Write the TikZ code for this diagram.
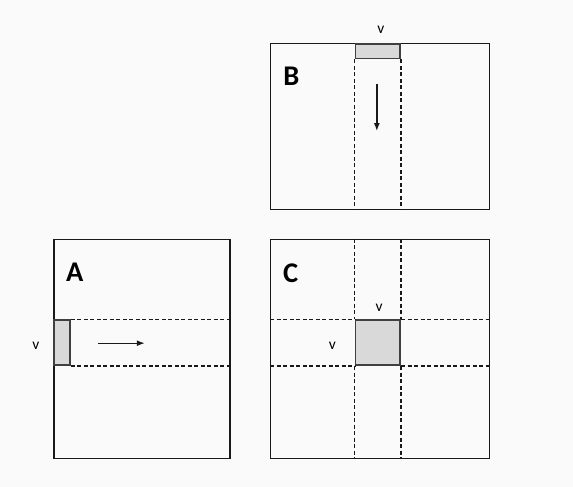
\documentclass[tikz,border=0pt]{standalone}
\usepackage{fontspec}
\setmainfont{Carlito}
\usetikzlibrary{arrows, arrows.meta, positioning}
\tikzstyle{mat} = [draw=black!90, line width=1.3pt, rectangle, inner sep=0pt]
\tikzstyle{part} = [draw=black!75, fill=black!15, line width=1.7pt, rectangle, inner sep=0pt]
\tikzstyle{strip} = [draw=black!90, line width=1.3pt, dash pattern=on 4pt off 2.5pt]
\tikzstyle{tag} = [font=\fontsize{28.5}{32}\selectfont\bfseries, inner sep=0pt]
\tikzstyle{dim} = [font=\fontsize{15.5}{18}\selectfont, inner sep=0pt]
\tikzstyle{point} = [coordinate]

\begin{document}
\begin{tikzpicture}[x=1pt, y=-1pt, >={Latex[length=8pt, width=6pt]}]
	\fill[black!2] (0,0) rectangle (573,487);
	\useasboundingbox (0,0) rectangle (573,487);

	% the three matrices
	\node [mat, minimum width=176pt, minimum height=219pt] (A) at (142,348.8) {};
	\node [mat, minimum width=218.6pt, minimum height=165.6pt] (B) at (380,126.5) {};
	\node [mat, minimum width=218.6pt, minimum height=219pt] (C) at (380,348.8) {};

	\node [tag] at ([xshift=21.5pt, yshift=-33.3pt]A.north west) {A};
	\node [tag] at ([xshift=21.3pt, yshift=-33.3pt]B.north west) {B};
	\node [tag] at ([xshift=20.5pt, yshift=-34.4pt]C.north west) {C};

	% blocks of size v
	\node [part, minimum width=15.7pt, minimum height=45pt, anchor=north west] (vA) at ([yshift=-80.7pt]A.north west) {};
	\node [part, minimum width=44.7pt, minimum height=14.6pt, anchor=north west] (vB) at ([xshift=84.6pt]B.north west) {};
	\node [part, minimum width=44.7pt, minimum height=45pt, anchor=north west] (vC) at ([xshift=84.6pt, yshift=-80.7pt]C.north west) {};

	\node [dim, left=13.8pt of vA, yshift=-3pt] (dimA) {v};
	\node [dim, above=9.4pt of vB, xshift=3pt] (dimB) {v};
	\node [dim, above=7.7pt of vC, xshift=1.3pt] (dimC1) {v};
	\node [dim, left=18.6pt of vC, yshift=-3.3pt] (dimC2) {v};

	% dashed strips
	\draw[strip] (vA.north east) -- (vA.north east -| A.east);
	\draw[strip] (vA.south east) -- (vA.south east -| A.east);
	\draw[strip] (vB.south west) -- (vB.south west |- B.south);
	\draw[strip] (vB.south east) -- (vB.south east |- B.south);
	\draw[strip] (vC.north west |- C.north) -- (vC.north west);
	\draw[strip] (vC.north east |- C.north) -- (vC.north east);
	\draw[strip] (vC.south west) -- (vC.south west |- C.south);
	\draw[strip] (vC.south east) -- (vC.south east |- C.south);
	\draw[strip] (vC.north west -| C.west) -- (vC.north west);
	\draw[strip] (vC.south west -| C.west) -- (vC.south west);
	\draw[strip] (vC.north east) -- (vC.north east -| C.east);
	\draw[strip] (vC.south east) -- (vC.south east -| C.east);

	% direction of the sweep
	\node [point] (rowstart) at ([xshift=27pt, yshift=-0.5pt]vA.east) {};
	\node [point] (rowend) at ([xshift=74pt, yshift=-0.5pt]vA.east) {};
	\node [point] (colstart) at ([xshift=-1pt, yshift=-24.7pt]vB.south) {};
	\node [point] (colend) at ([xshift=-1pt, yshift=-71.7pt]vB.south) {};
	\draw[->, line width=1.3pt, black!90] (rowstart) -- (rowend);
	\draw[->, line width=1.3pt, black!90] (colstart) -- (colend);
\end{tikzpicture}
\end{document}
